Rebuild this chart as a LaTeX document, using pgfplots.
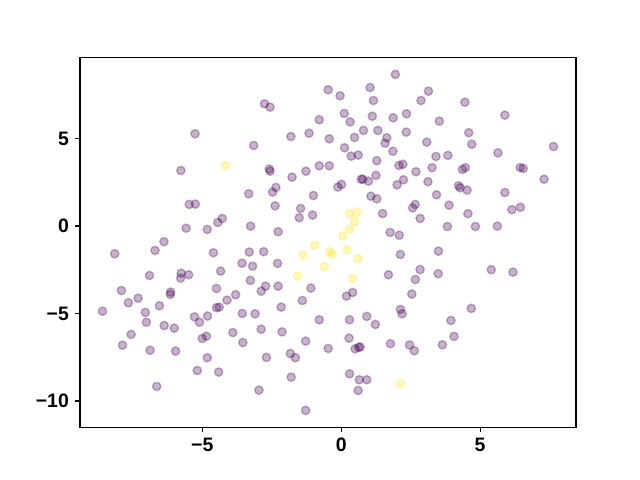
\documentclass[border=0pt]{standalone}
\usepackage{pgfplots}
\pgfplotsset{compat=1.18}
\usepackage{fontspec}
\setmainfont{Liberation Sans}
\definecolor{vpurple}{HTML}{440154}
\definecolor{vyellow}{HTML}{FDE725}
\begin{document}
\begin{tikzpicture}
\begin{axis}[name=ax,
  scale only axis, width=357.12pt, height=266.1pt,
  xmin=-9.40, xmax=8.45, ymin=-11.50, ymax=9.62,
  xtick={-5,0,5}, xticklabels={−5,0,5},
  ytick={-10,-5,0,5}, yticklabels={−10,−5,0,5},
  tick align=outside, xtick pos=bottom, ytick pos=left,
  major tick length=3.5pt,
  every tick/.style={black, line width=0.8pt},
  axis line style={line width=0.8pt},
  tick label style={font=\fontsize{14}{16}\selectfont\bfseries},
  xticklabel style={yshift=-1pt},
  yticklabel style={xshift=-1pt},
  clip=false,
]
\addplot[only marks, mark=*, mark size=3pt,
  mark options={fill=vpurple, draw=vpurple, fill opacity=0.3, draw opacity=0.3, line width=1pt}]
table {
x y
-5.26 5.27
-5.77 3.17
-3.33 1.84
-5.47 1.23
-5.25 1.25
-4.44 0.20
-4.28 0.43
-5.58 -0.13
-4.82 -0.20
-3.26 -0.01
-6.38 -0.90
1.95 8.66
1.04 7.91
-0.47 7.78
-0.04 7.44
1.16 7.17
-2.76 6.98
-2.56 6.79
0.11 6.43
2.35 6.41
1.12 6.27
1.87 6.18
-0.79 6.07
0.32 5.95
0.80 5.46
1.32 5.46
2.34 5.36
-1.16 5.30
-1.81 5.11
0.48 5.06
1.64 5.04
1.58 4.73
-0.43 4.98
-3.15 4.60
0.12 4.47
1.86 4.27
0.36 3.99
0.61 4.05
1.28 3.73
2.08 3.46
2.22 3.53
-0.79 3.44
-0.43 3.44
-2.59 3.25
-2.56 3.13
-1.27 3.13
2.69 3.10
-1.77 2.79
0.72 2.67
0.78 2.67
0.98 2.56
1.25 2.89
2.24 2.64
2.01 2.35
0.01 2.37
-0.12 2.22
-2.35 2.20
-2.47 1.93
1.07 1.70
1.28 1.55
-1.00 1.74
-2.38 1.15
-1.46 1.00
-1.51 0.47
-1.03 0.62
1.49 0.71
2.66 1.23
2.57 1.03
-2.27 -0.33
1.76 -0.37
2.09 -0.53
3.14 7.70
2.87 7.17
4.45 7.07
5.89 6.33
3.53 5.99
4.59 5.33
4.70 4.67
3.08 4.79
5.64 4.18
7.64 4.54
3.41 3.97
3.84 4.03
3.27 3.33
4.36 3.23
4.47 3.33
6.44 3.34
6.55 3.29
7.30 2.67
3.12 2.53
4.22 2.30
4.28 2.18
4.53 2.05
5.89 1.91
3.43 1.78
3.88 1.19
6.14 0.93
6.45 1.07
4.56 0.70
2.84 0.43
3.82 -0.03
4.83 -0.03
5.62 -0.01
-8.15 -1.59
-6.70 -1.40
-4.60 -1.53
-3.31 -1.49
-3.57 -2.13
-3.19 -2.30
-4.34 -2.58
-6.90 -2.83
-5.76 -2.70
-5.78 -2.98
-5.49 -2.79
-3.27 -3.11
-7.91 -3.69
-6.14 -3.78
-6.15 -3.91
-4.49 -3.57
-3.80 -3.93
-7.31 -4.13
-7.66 -4.39
-4.11 -4.24
-6.54 -4.56
-4.49 -4.67
-4.39 -4.64
-8.59 -4.87
-7.05 -4.94
-3.56 -5.00
-5.28 -5.19
-5.10 -5.50
-4.81 -5.15
-7.01 -5.50
-6.37 -5.69
-6.01 -5.84
-7.56 -6.20
-3.90 -6.09
-5.00 -6.43
-4.85 -6.30
-3.54 -6.66
-7.87 -6.81
-6.88 -7.10
-5.96 -7.15
-4.82 -7.53
-5.18 -8.26
-4.41 -8.35
-6.64 -9.17
-2.79 -1.47
-2.29 -2.14
2.13 -1.63
1.70 -2.79
-2.72 -3.44
-2.88 -3.73
-2.27 -3.44
-1.09 -3.55
0.41 -3.80
0.19 -4.01
2.54 -3.89
-1.40 -4.26
-2.16 -4.64
-3.10 -5.02
2.13 -4.77
2.19 -5.02
-0.79 -5.36
0.30 -5.36
0.92 -5.17
1.23 -5.63
-2.88 -5.90
-2.13 -6.05
-1.28 -6.58
0.28 -6.41
1.77 -6.73
2.46 -6.80
2.63 -7.13
-0.47 -7.00
0.50 -7.02
0.63 -6.94
0.68 -6.91
-1.83 -7.29
-1.65 -7.53
-2.69 -7.51
-1.80 -8.64
0.30 -8.45
0.65 -8.79
0.92 -8.79
0.61 -9.40
-2.96 -9.38
-1.28 -10.54
3.50 -1.44
2.84 -2.49
3.49 -2.73
2.67 -3.06
5.40 -2.50
6.18 -2.64
4.68 -4.71
3.95 -5.40
4.06 -6.31
3.64 -6.79
};
\addplot[only marks, mark=*, mark size=3pt,
  mark options={fill=vyellow, draw=vyellow, fill opacity=0.3, draw opacity=0.3, line width=1pt}]
table {
x y
-4.17 3.44
0.30 0.71
0.56 0.79
0.48 0.26
0.30 -0.18
0.05 -0.58
-0.96 -1.09
-1.37 -1.65
-0.41 -1.47
-0.33 -1.63
0.21 -1.36
0.60 -1.87
-0.61 -2.33
-1.57 -2.87
0.41 -3.00
2.13 -9.02
};
\end{axis}
\path[use as bounding box] ([shift={(-57.6pt,-38.016pt)}]ax.south west) rectangle ([shift={(403.2pt,307.584pt)}]ax.south west);
\end{tikzpicture}
\end{document}
